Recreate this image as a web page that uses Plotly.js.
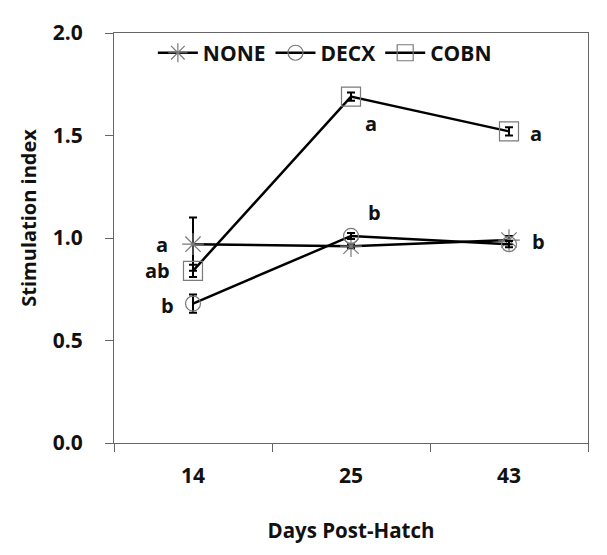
<!DOCTYPE html>
<html>
<head>
<meta charset="utf-8">
<script src="https://cdn.plot.ly/plotly-3.0.1.min.js"></script>
<style>html,body{margin:0;padding:0;background:#fff;}#chart{width:607px;height:555px;}</style>
</head>
<body>
<div id="chart"></div>
<script>
// ---- data ----
var days = ['14', '25', '43'];
var noneVals = [0.97, 0.96, 0.99];
var noneErr  = [0.13, 0.01, 0.02];
var decxVals = [0.68, 1.01, 0.97];
var decxErr  = [0.045, 0.015, 0.015];
var cobnVals = [0.84, 1.69, 1.52];
var cobnErr  = [0.03, 0.02, 0.02];
var yTicks = [0, 0.5, 1.0, 1.5, 2.0];
var yTickText = ['0.0', '0.5', '1.0', '1.5', '2.0'];
// significance letters: [series values, index, letter]
var letters = [
  [noneVals, 0, 'a'], [cobnVals, 0, 'ab'], [decxVals, 0, 'b'],
  [cobnVals, 1, 'a'], [decxVals, 1, 'b'],
  [cobnVals, 2, 'a'], [noneVals, 2, 'b']
];
// ---- styling/placement (not data) ----
var letterPlace = [
  {dx: -31, dy: 0}, {dx: -36, dy: 0}, {dx: -26, dy: -0.01},
  {dx: 20, dy: -0.129}, {dx: 23, dy: 0.112},
  {dx: 27, dy: -0.008}, {dx: 29, dy: -0.005}
];
var FONT = '"Open Sans", "Noto Sans", Arial, sans-serif';
function mk(name, y, err, sym, size) {
  return {
    type: 'scatter', mode: 'lines+markers', name: name, x: [0, 1, 2], y: y,
    line: {color: '#000', width: 2.5},
    marker: {symbol: sym, size: size, color: '#7a7a7a', line: {color: '#7a7a7a', width: 1.2}},
    error_y: {type: 'data', array: err, visible: true, color: '#000', thickness: 2, width: 4}
  };
}
var traces = [
  mk('NONE', noneVals, noneErr, 'asterisk-open', 18),
  mk('DECX', decxVals, decxErr, 'circle-open', 15),
  mk('COBN', cobnVals, cobnErr, 'square-open', 19)
];
var annotations = letters.map(function (l, i) {
  return {
    x: l[1], y: l[0][l[1]] + letterPlace[i].dy, xref: 'x', yref: 'y',
    text: l[2], showarrow: false, xshift: letterPlace[i].dx,
    font: {family: FONT, size: 20, color: '#111', weight: 'bold'}
  };
});
annotations.push({
  xref: 'paper', yref: 'paper', x: -0.181, y: 0.55, textangle: -90,
  text: 'Stimulation index', showarrow: false, xanchor: 'center', yanchor: 'middle',
  font: {family: FONT, size: 20, color: '#111', weight: 'bold'}
});
var layout = {
  width: 607, height: 555,
  margin: {l: 114, r: 19, t: 33, b: 112},
  paper_bgcolor: '#fff', plot_bgcolor: '#fff',
  showlegend: true,
  legend: {orientation: 'h', x: 0.082, y: 0.951, xanchor: 'left', yanchor: 'middle',
           font: {family: FONT, size: 21, color: '#111', weight: 'bold'}, bgcolor: 'rgba(0,0,0,0)',
           itemwidth: 40, tracegroupgap: 0},
  xaxis: {
    type: 'linear', range: [-0.5, 2.5],
    tickvals: [0, 1, 2], ticktext: days,
    ticks: '', showline: true, linecolor: '#666', linewidth: 1, mirror: true,
    showgrid: false, zeroline: false, ticklabelstandoff: 14,
    tickfont: {family: FONT, size: 21, color: '#111', weight: 'bold'},
    title: {text: 'Days Post-Hatch', font: {family: FONT, size: 20.5, color: '#111', weight: 'bold'}, standoff: 35}
  },
  xaxis2: {
    overlaying: 'x', anchor: 'y', side: 'bottom', type: 'linear', range: [-0.5, 2.5],
    tickvals: [-0.5, 0.5, 1.5, 2.5], showticklabels: false,
    ticks: 'outside', ticklen: 8, tickcolor: '#666', tickwidth: 1,
    showline: false, showgrid: false, zeroline: false
  },
  yaxis: {
    range: [0, 2.0], tickvals: yTicks, ticktext: yTickText,
    ticks: 'outside', ticklen: 8, tickcolor: '#666', tickwidth: 1,
    showline: true, linecolor: '#666', linewidth: 1, mirror: true,
    showgrid: false, zeroline: false, ticklabelstandoff: 18,
    tickfont: {family: FONT, size: 21, color: '#111', weight: 'bold'}
  },
  annotations: annotations
};
traces.push({type: 'scatter', x: [0], y: [null], xaxis: 'x2', yaxis: 'y', showlegend: false, hoverinfo: 'skip'});
Plotly.newPlot('chart', traces, layout, {displayModeBar: false, staticPlot: true});
</script>
</body>
</html>
